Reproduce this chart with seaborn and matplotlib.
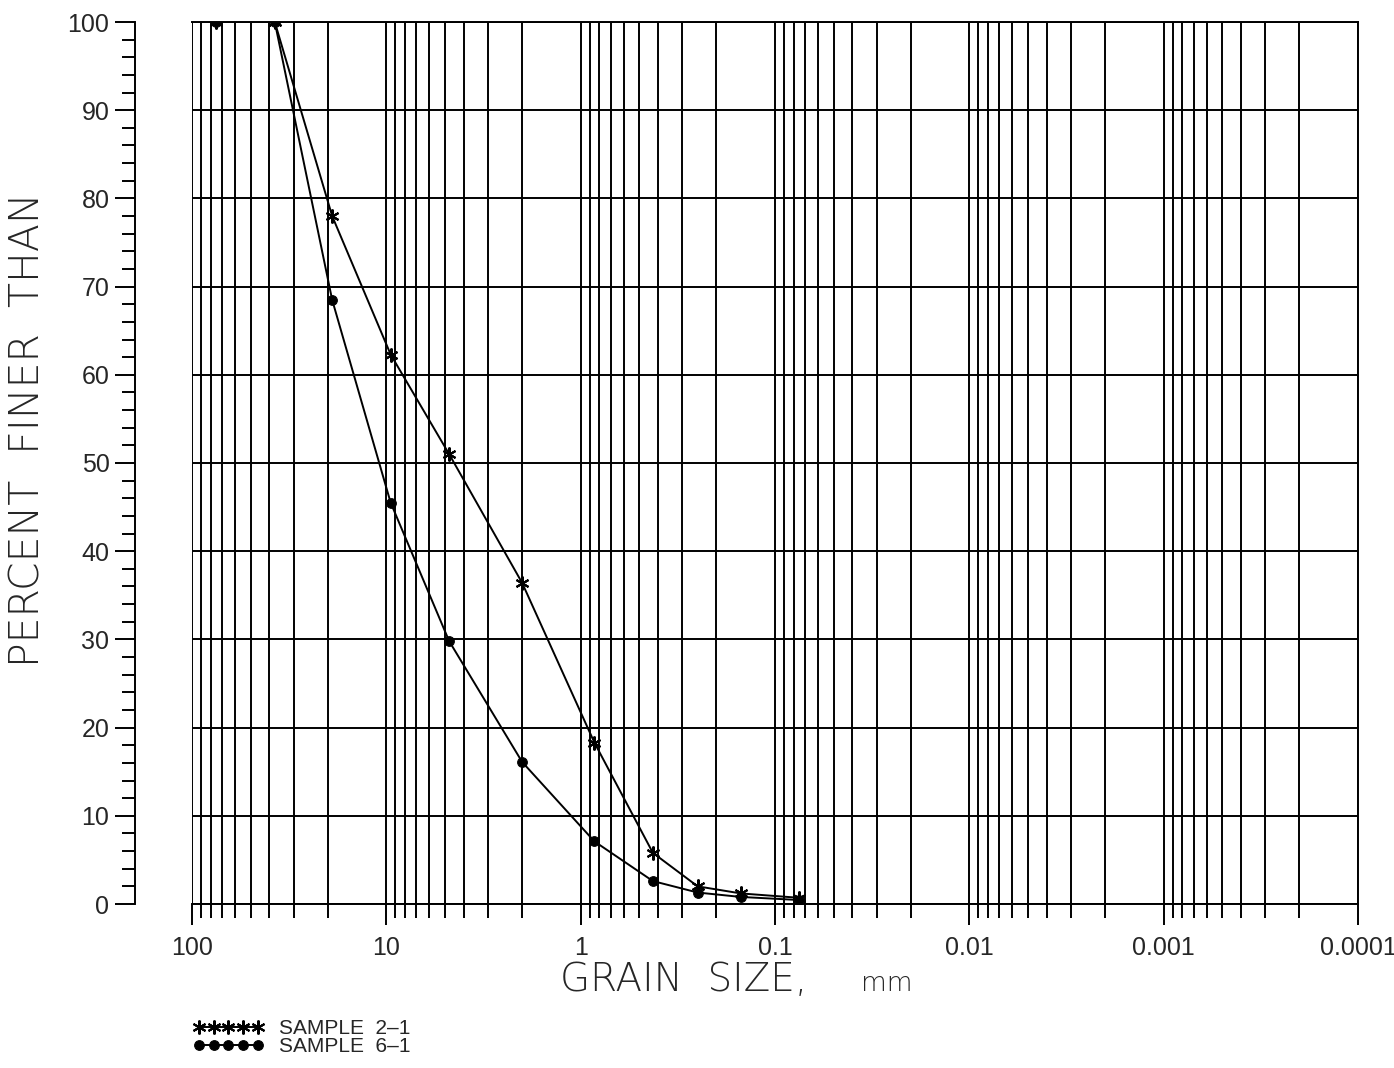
import numpy as np
import pandas as pd
import matplotlib
matplotlib.use("Agg")
import matplotlib.pyplot as plt
import seaborn as sns
from matplotlib.ticker import LogLocator, FixedLocator, NullFormatter

# ---- data ----
grain_size_mm = [75, 37.5, 19, 9.5, 4.75, 2.0, 0.85, 0.425, 0.25, 0.15, 0.075]
sample_2_1 = [100, 100, 78.0, 62.3, 51.0, 36.4, 18.3, 5.8, 2.0, 1.2, 0.7]
sample_6_1 = [100, 100, 68.5, 45.5, 29.8, 16.1, 7.1, 2.6, 1.3, 0.8, 0.45]
series_labels = ["SAMPLE  2–1", "SAMPLE  6–1"]
x_tick_values = [100, 10, 1, 0.1, 0.01, 0.001, 0.0001]
x_tick_labels = ["100", "10", "1", "0.1", "0.01", "0.001", "0.0001"]
y_tick_values = list(range(0, 101, 10))

sns.set_style("white")
plt.rcParams["font.family"] = ["Liberation Sans", "DejaVu Sans"]

W, H = 1394, 1068
dpi = 100
fig = plt.figure(figsize=(W / dpi, H / dpi), dpi=dpi)
L, R, T, B = 192, 1358, 22, 904
ax = fig.add_axes([L / W, 1 - B / H, (R - L) / W, (B - T) / H])

lw_grid = 1.4
sns.lineplot(x=grain_size_mm, y=sample_2_1, ax=ax, color="black", lw=1.4,
             marker=(6, 2, 0), markersize=10, mew=1.5, mec="black",
             estimator=None, sort=False, label=series_labels[0], legend=False)
sns.lineplot(x=grain_size_mm, y=sample_6_1, ax=ax, color="black", lw=1.4,
             marker="o", markersize=7, mec="black", mfc="black",
             estimator=None, sort=False, label=series_labels[1], legend=False)

ax.set_xscale("log")
ax.set_xlim(100, 0.0001)
ax.set_ylim(0, 100)

ax.xaxis.set_major_locator(FixedLocator(x_tick_values))
ax.set_xticks(x_tick_values)
ax.set_xticklabels(x_tick_labels)
ax.xaxis.set_minor_locator(LogLocator(base=10, subs=np.arange(2, 10), numticks=50))
ax.xaxis.set_minor_formatter(NullFormatter())

ax.set_yticks(y_tick_values)
ax.set_yticks(np.arange(0, 101, 2), minor=True)

ax.grid(which="both", axis="x", color="black", lw=lw_grid)
ax.grid(which="major", axis="y", color="black", lw=lw_grid)
ax.set_axisbelow(True)

for s in ["top", "right", "bottom"]:
    ax.spines[s].set_color("black")
    ax.spines[s].set_linewidth(lw_grid)
ax.spines["left"].set_position(("outward", 57 * 72 / dpi))
ax.spines["left"].set_color("black")
ax.spines["left"].set_linewidth(lw_grid)

ax.tick_params(axis="x", which="major", direction="out", length=21 * 72 / dpi,
               width=lw_grid, color="black", bottom=True, labelsize=18, pad=8)
ax.tick_params(axis="x", which="minor", direction="out", length=14 * 72 / dpi,
               width=lw_grid, color="black", bottom=True)
ax.tick_params(axis="y", which="major", direction="out", length=20 * 72 / dpi,
               width=lw_grid, color="black", left=True, labelsize=18, pad=4)
ax.tick_params(axis="y", which="minor", direction="out", length=13 * 72 / dpi,
               width=lw_grid, color="black", left=True)

ax.set_xlabel("")
ax.set_ylabel("")

# axis titles
lab_font = ["DejaVu Sans"]
fig.text(28 / W, 1 - 430 / H, "PERCENT  FINER  THAN", rotation=90, ha="center",
         va="center", fontsize=29.5, family=lab_font, fontweight="light")
fig.text(807 / W, 1 - 991 / H, "GRAIN  SIZE,", ha="right", va="baseline",
         fontsize=28, family=lab_font, fontweight="light")
fig.text(861 / W, 1 - 991 / H, "mm", ha="left", va="baseline",
         fontsize=19, family=lab_font, fontweight="light")

fig.legend(handles=ax.lines[:2], labels=series_labels, loc="upper left",
           bbox_to_anchor=(193 / W, 1 - 1019 / H), numpoints=5, frameon=False,
           handlelength=3.4, handletextpad=0.75, labelspacing=-0.04, fontsize=15,
           borderaxespad=0, borderpad=0)

fig.savefig("out.png", dpi=dpi, facecolor="white")
